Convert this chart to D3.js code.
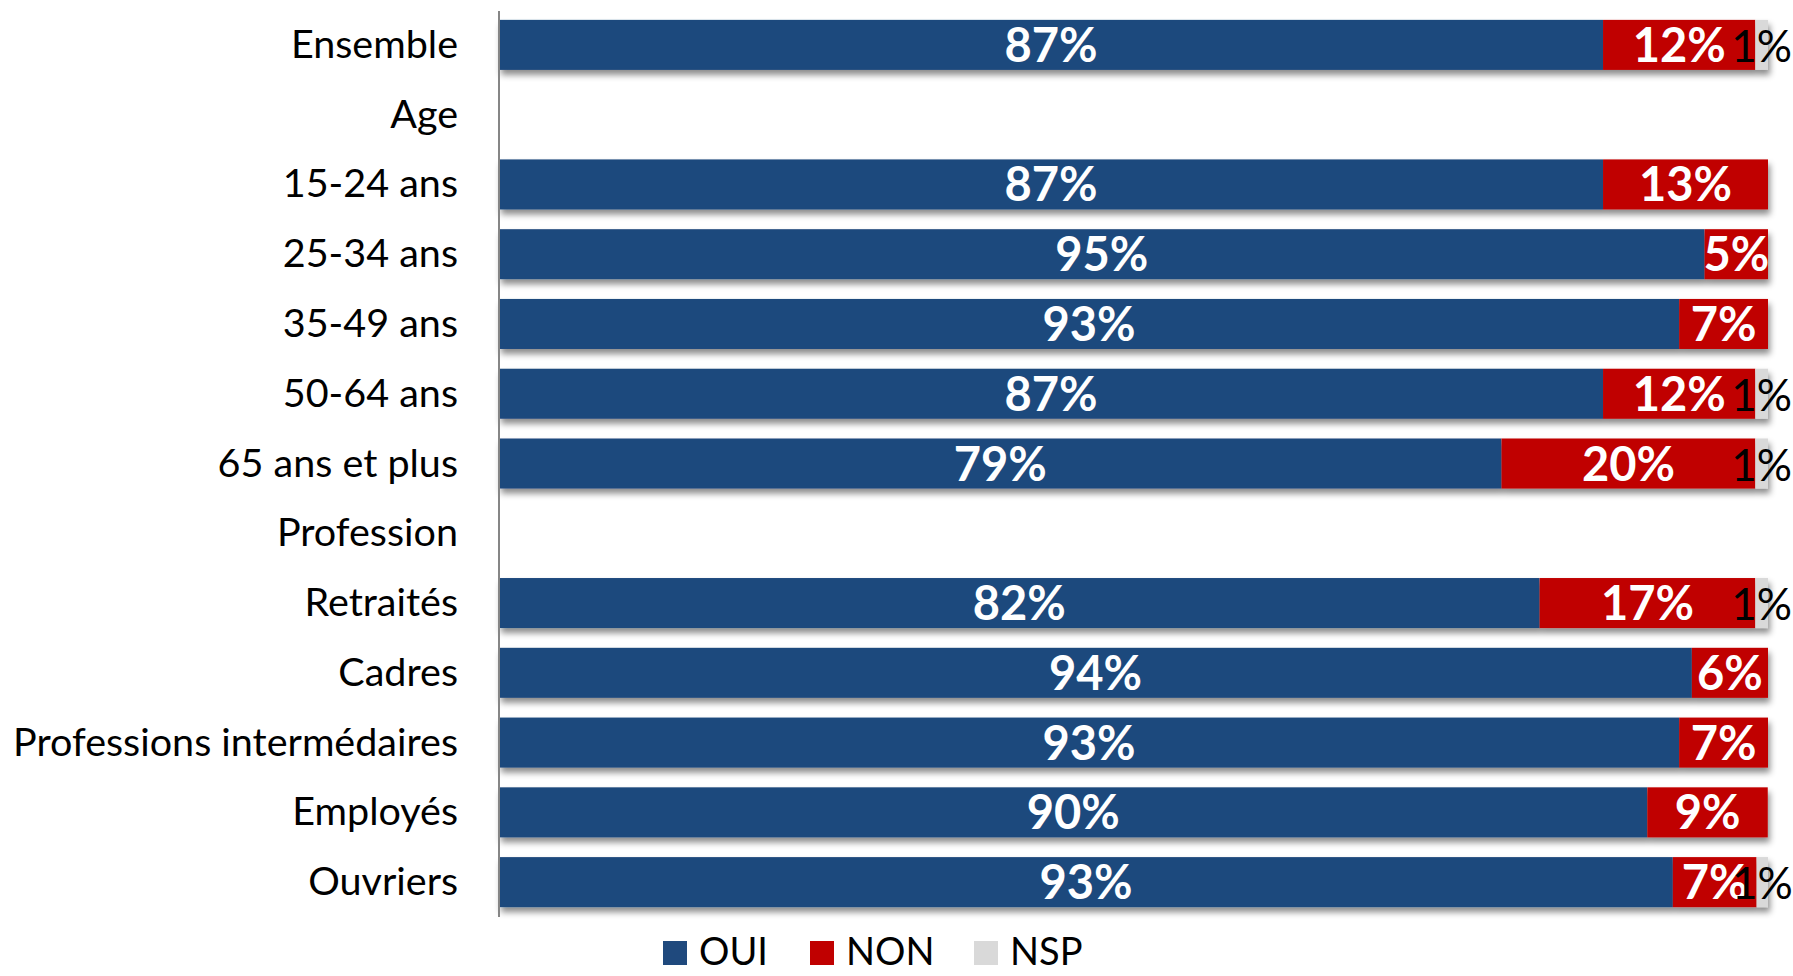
<!DOCTYPE html>
<html>
<head>
<meta charset="utf-8">
<script src="https://cdn.jsdelivr.net/npm/d3@7"></script>
<style>
  body { margin: 0; background: #fff; }
  svg { display: block; font-family: Lato, "Open Sans", sans-serif; }
</style>
</head>
<body>
<div id="chart"></div>
<script>
// categories (blank values = group headers)
var categories = ["Ensemble", "Age", "15-24 ans", "25-34 ans", "35-49 ans", "50-64 ans",
  "65 ans et plus", "Profession", "Retraités", "Cadres", "Professions intermédaires",
  "Employés", "Ouvriers"];
var oui = [87, null, 87, 95, 93, 87, 79, null, 82, 94, 93, 90.49, 92.5];
var non = [12, null, 13, 5, 7, 12, 20, null, 17, 6, 7, 9.49, 6.6];
var nsp = [1, null, 0, 0, 0, 1, 1, null, 1, 0, 0, 0, 0.9];
var seriesNames = ["OUI", "NON", "NSP"];
var colors = ["#1f497d", "#c00000", "#d9d9d9"];

var width = 1793, height = 976;
var x0 = 499, x1 = 1768;

var svg = d3.select("#chart").append("svg")
  .attr("width", width)
  .attr("height", height);

var defs = svg.append("defs");
var f = defs.append("filter").attr("id", "shadow")
  .attr("x", "-2%").attr("y", "-20%").attr("width", "104%").attr("height", "160%");
f.append("feDropShadow")
  .attr("dx", 2).attr("dy", 5).attr("stdDeviation", 3)
  .attr("flood-color", "#000").attr("flood-opacity", 0.45);

var x = d3.scaleLinear().domain([0, 100]).range([x0, x1]);
var y = d3.scaleBand()
  .domain(categories)
  .range([10, 917])
  .paddingInner(0.283)
  .paddingOuter(0.1415);

var rows = categories.map(function(c, i) {
  var vals = [oui[i], non[i], nsp[i]];
  var acc = 0, segs = [];
  if (vals[0] !== null) {
    vals.forEach(function(v, k) {
      segs.push({ k: k, start: acc, end: acc + v, v: v });
      acc += v;
    });
  }
  return { cat: c, segs: segs };
});

// bars
var rowG = svg.selectAll(".row")
  .data(rows)
  .enter()
  .append("g")
  .attr("class", "row")
  .attr("transform", function(d) { return "translate(0," + y(d.cat) + ")"; });

rowG.append("g")
  .attr("filter", "url(#shadow)")
  .selectAll("rect")
  .data(function(d) { return d.segs.filter(function(s) { return s.v > 0; }); })
  .enter()
  .append("rect")
  .attr("x", function(s) { return x(s.start); })
  .attr("width", function(s) { return x(s.end) - x(s.start); })
  .attr("y", 0)
  .attr("height", y.bandwidth())
  .attr("fill", function(s) { return colors[s.k]; });

// value labels
rowG.selectAll("text.val")
  .data(function(d) { return d.segs.filter(function(s) { return Math.round(s.v) > 0; }); })
  .enter()
  .append("text")
  .attr("class", "val")
  .attr("x", function(s) { return (x(s.start) + x(s.end)) / 2; })
  .attr("y", y.bandwidth() / 2 + 17)
  .attr("text-anchor", "middle")
  .attr("font-size", function(s) { return s.k === 2 ? 44 : 47; })
  .attr("font-weight", function(s) { return s.k === 2 ? 400 : 700; })
  .attr("fill", function(s) { return s.k === 2 ? "#000" : "#fff"; })
  .text(function(s) { return Math.round(s.v) + "%"; });

// category labels
svg.selectAll(".cat")
  .data(categories)
  .enter()
  .append("text")
  .attr("class", "cat")
  .attr("x", 458)
  .attr("y", function(d) { return y(d) + y.bandwidth() / 2 + 13; })
  .attr("text-anchor", "end")
  .attr("font-size", 39.5)
  .attr("fill", "#000")
  .text(function(d) { return d; });

// axis line
svg.append("line")
  .attr("x1", x0).attr("x2", x0)
  .attr("y1", 11).attr("y2", 917)
  .attr("stroke", "#868686")
  .attr("stroke-width", 2);

// legend
var legendX = [663, 810, 974];
var leg = svg.selectAll(".leg")
  .data(seriesNames)
  .enter()
  .append("g")
  .attr("class", "leg")
  .attr("transform", function(d, i) { return "translate(" + legendX[i] + ",941)"; });

leg.append("rect")
  .attr("width", 24)
  .attr("height", 24)
  .attr("fill", function(d, i) { return colors[i]; });

leg.append("text")
  .attr("x", 36)
  .attr("y", 24)
  .attr("font-size", 38)
  .attr("fill", "#000")
  .text(function(d) { return d; });
</script>
</body>
</html>
